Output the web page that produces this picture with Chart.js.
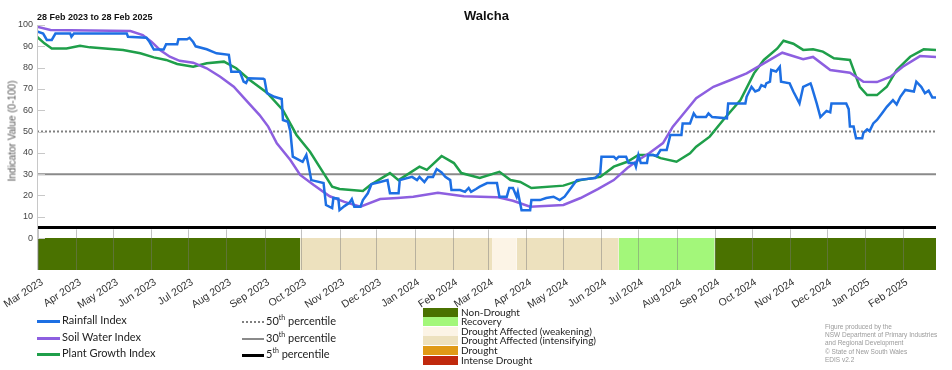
<!DOCTYPE html>
<html>
<head>
<meta charset="utf-8">
<script src="https://cdn.jsdelivr.net/npm/chart.js@4.4.1/dist/chart.umd.min.js"></script>
<style>
  body { margin: 0; background: #fff; font-family: 'Liberation Sans', Arial, sans-serif; }
  #wrap { position: relative; width: 952px; height: 370px; overflow: hidden; }
  #wrap canvas { position: absolute; left: 0; top: 0; }
  .abs { position: absolute; white-space: nowrap; }
  .title { left: 0; width: 973px; top: 8px; text-align: center; font-weight: bold; font-size: 13px; color: #111; }
  .period { left: 37px; top: 12px; font-weight: bold; font-size: 9px; color: #111; }
  .ytitle { left: 12px; top: 131px; font-size: 10px; color: #555; transform: translate(-50%, -50%) rotate(-90deg); }
  .leg { font-family: Lato, 'Liberation Sans', sans-serif; font-size: 11px; color: #222; line-height: 12px; }
  .leg sup { font-size: 7px; line-height: 0; }
  .stage { font-family: Lato, 'Liberation Sans', sans-serif; font-size: 10px; color: #222; line-height: 10px; }
  .credit { left: 825px; top: 323px; font-size: 6.5px; line-height: 8.2px; color: #9a9a9a; }
</style>
</head>
<body>
<div id="wrap">
  <canvas id="chart"></canvas>
  <div class="abs title">Walcha</div>
  <div class="abs period">28 Feb 2023 to 28 Feb 2025</div>
  <div class="abs ytitle">Indicator Value (0-100)</div>
  <div class="abs credit">Figure produced by the<br>NSW Department of Primary Industries<br>and Regional Development<br>© State of New South Wales<br>EDIS v2.2</div>
</div>
<script>
// days counted from 28 Feb 2023
const lastDay = 731;
const monthLabels = ['Mar 2023', 'Apr 2023', 'May 2023', 'Jun 2023', 'Jul 2023', 'Aug 2023',
  'Sep 2023', 'Oct 2023', 'Nov 2023', 'Dec 2023', 'Jan 2024', 'Feb 2024', 'Mar 2024', 'Apr 2024',
  'May 2024', 'Jun 2024', 'Jul 2024', 'Aug 2024', 'Sep 2024', 'Oct 2024', 'Nov 2024', 'Dec 2024',
  'Jan 2025', 'Feb 2025'];
const monthStartDays = [1, 32, 62, 93, 123, 154, 185, 215, 246, 276, 307, 338, 367, 398, 428,
  459, 489, 520, 551, 581, 612, 642, 673, 704];
const yTicks = [0, 10, 20, 30, 40, 50, 60, 70, 80, 90, 100];

const percentileNames = ['50th', '30th', '5th'];
const percentiles = [50, 30, 5];

// [day, value]
const rainfallIndex = [[0,97],[5,96],[8,93],[12,93],[15,96],[27,96],[28,94.5],[30,96],[73,96],[74,94.5],
  [89,94],[91,92.5],[95,88.5],[103,88.5],[105,91],[114,91],[115,93.3],[122,93.3],[124,94],[127,92],
  [129,90],[138,88.6],[146,86.7],[156,86],[157,82],[158,78],[165,78],[168,73.4],[170,72.8],[172,75],
  [184,74.8],[185,74.4],[187,68],[193,66.3],[199,65.3],[200,55.4],[204,54.6],[206,50],[208,38.2],
  [216,35.8],[219,39],[221,33.5],[223,27.2],[233,25.8],[235,15.5],[240,14.1],[241,18.8],[245,18.5],
  [246,13.1],[250,15],[254,16.5],[256,18.3],[258,14.7],[263,14.7],[265,17.8],[269,21],[272,25.3],
  [279,26.3],[285,27.2],[287,21],[294,21],[295,27.2],[305,28.7],[309,27.2],[311,28.7],[315,26.3],
  [318,28.7],[322,28.7],[325,32.4],[329,30.8],[332,28.7],[336,27.2],[337,22.5],[344,22.5],[348,21.7],
  [351,23.5],[353,21.7],[357,23],[360,24.1],[366,25.8],[374,25.8],[376,19.4],[382,19.4],[384,23.5],
  [387,23.5],[390,19.4],[391,21.7],[394,13.1],[401,13.1],[402,17.8],[409,17.8],[414,18.8],[420,19.4],
  [425,17.8],[429,19.4],[433,22.5],[436,24.9],[439,27.2],[454,28.2],[458,30.5],[459,38.2],[469,38.2],
  [471,37],[473,38.2],[479,38.2],[481,35.2],[486,35.2],[487,33.5],[489,39],[491,35.2],[496,35.2],
  [497,39],[501,39],[504,38.5],[507,41.3],[512,41.3],[515,48.4],[524,48.4],[525,53.8],[531,53.8],
  [534,58.5],[536,56.8],[544,56.8],[546,58.5],[549,56.8],[561,56.2],[562,63.2],[576,63.2],[577,66.3],
  [581,71],[584,68.8],[587,69.5],[589,71.8],[592,71],[593,72.6],[596,73.4],[597,78.9],[601,78.2],
  [604,80.4],[605,73.4],[612,72.6],[615,68.8],[620,63.2],[623,71],[629,72.6],[630,71],[634,63.2],
  [637,56.8],[642,59.7],[645,59],[646,63.2],[658,63.2],[660,60.5],[661,52.3],[664,52.3],[666,46.8],
  [671,46.8],[672,49.4],[675,51],[677,50.2],[680,53.8],[683,55.4],[687,58.5],[691,61.6],[696,64.7],
  [699,62.7],[702,66.3],[706,69.5],[713,68.8],[715,73.4],[719,71],[722,68],[725,69.2],[728,66],[731,66]];

const soilWaterIndex = [[0,99.2],[11,97.7],[76,97.2],[86,95.3],[93,92.2],[100,88.3],[108,85.1],
  [116,83.2],[127,82.3],[138,79.7],[149,75.7],[160,71],[171,64],[181,57.7],[188,52.3],[195,44.5],
  [206,36.6],[214,29.6],[225,24.9],[238,19.6],[250,17],[263,14.7],[279,18.3],[293,18.8],[306,19.4],
  [326,21.2],[347,19.6],[374,19.2],[387,17.5],[401,14.7],[428,15.5],[442,18.8],[456,23],[469,27.2],
  [480,32.9],[489,36.6],[498,39.9],[509,44.6],[517,52.3],[528,60],[536,65.6],[550,71],[564,74.2],
  [577,77.3],[591,82],[606,87],[623,83.9],[631,85],[645,78.9],[661,77.6],[672,73.4],[683,73.2],
  [694,75.7],[704,80.4],[718,85.4],[731,85]];

const plantGrowthIndex = [[0,94.5],[6,91.4],[12,89],[24,89],[35,90.3],[43,89.5],[70,88.3],[84,86.7],
  [95,84.8],[105,83.6],[114,81.7],[127,80.4],[138,82],[152,82.8],[162,79.7],[173,74.2],[187,68.2],
  [200,60],[211,48.4],[222,40.5],[233,30.5],[240,24.1],[246,23],[265,22.1],[271,24.9],[287,30.5],
  [294,27.2],[311,33.5],[317,32],[329,38.5],[339,35.2],[345,30.5],[360,28.2],[376,31.1],[385,27.2],
  [393,26.3],[402,23.5],[428,24.6],[442,27.2],[458,28.7],[469,33.5],[480,35.8],[489,39],[501,39],
  [507,37.5],[520,35.8],[531,39.8],[536,42.9],[547,47.6],[558,55.4],[572,64.8],[583,77.3],[591,83.6],
  [602,89],[607,92.6],[615,91.2],[623,88.3],[631,88.6],[639,87.5],[648,84.4],[661,83.6],[669,71],
  [675,67.1],[683,67.1],[691,71],[699,78.9],[710,85.1],[721,88.6],[731,88.3]];

const droughtStages = ['Non-Drought', 'Recovery', 'Drought Affected (weakening)',
  'Drought Affected (intensifying)', 'Drought', 'Intense Drought'];
// stage periods: start days (last entry is end) and stage index per period
const periodBounds = [0, 214, 370, 390, 473, 551, 731];
const periodStages = [0, 3, 2, 3, 1, 0];

const stageColors = ['#4a7200', '#a3f77a', '#fcf4e6', '#ede1be', '#e09a16', '#c0290d'];
const seriesNames = ['Rainfall Index', 'Soil Water Index', 'Plant Growth Index'];
const seriesColors = ['#1d6fe3', '#8d5fe0', '#1f9f4a'];
const pctColors = ['#808080', '#8a8a8a', '#000000'];

const toXY = arr => arr.map(([d, v]) => ({ x: d, y: v }));

const datasets = [];
periodStages.forEach((s, i) => {
  datasets.push({
    data: [{ x: periodBounds[i], y: 0 }, { x: periodBounds[i + 1], y: 0 }],
    fill: 'start', backgroundColor: stageColors[s], borderWidth: 0,
    pointRadius: 0, order: 20
  });
});
percentiles.forEach((p, i) => {
  datasets.push({
    data: [{ x: 0, y: p }, { x: lastDay, y: p }],
    borderColor: pctColors[i], borderWidth: i === 2 ? 3 : 2,
    borderDash: i === 0 ? [2, 2] : [], pointRadius: 0, fill: false, order: 10
  });
});
[rainfallIndex, soilWaterIndex, plantGrowthIndex].forEach((s, i) => {
  datasets.push({
    label: seriesNames[i], data: toXY(s), borderColor: seriesColors[i],
    borderWidth: 2.5, pointRadius: 0, fill: false, tension: 0, order: i + 1
  });
});

const panelLines = {
  id: 'panelLines',
  afterDatasetsDraw(chart) {
    const { ctx, chartArea: a, scales: { x, y } } = chart;
    ctx.save();
    ctx.lineWidth = 1;
    ctx.strokeStyle = 'rgba(120,120,120,0.45)';
    const top = y.getPixelForValue(percentiles[2]) + 2;
    monthStartDays.forEach(d => {
      const px = Math.round(x.getPixelForValue(d)) + 0.5;
      ctx.beginPath(); ctx.moveTo(px, top); ctx.lineTo(px, a.bottom); ctx.stroke();
    });
    ctx.strokeStyle = '#c8c8c8';
    ctx.beginPath(); ctx.moveTo(a.left + 0.5, a.top); ctx.lineTo(a.left + 0.5, a.bottom); ctx.stroke();
    yTicks.forEach(v => {
      const py = Math.round(y.getPixelForValue(v)) + 0.5;
      ctx.beginPath(); ctx.moveTo(a.left, py); ctx.lineTo(a.left + 8, py); ctx.stroke();
    });
    ctx.restore();
  }
};

new Chart(document.getElementById('chart'), {
  type: 'line',
  data: { datasets },
  options: {
    responsive: true,
    maintainAspectRatio: false,
    animation: false,
    layout: { autoPadding: false, padding: { top: 25, right: 16, left: 0, bottom: 0 } },
    plugins: { legend: { display: false }, tooltip: { enabled: false } },
    scales: {
      x: {
        type: 'linear', min: 0, max: lastDay,
        afterBuildTicks: s => { s.ticks = monthStartDays.map(v => ({ value: v })); },
        afterFit: s => { s.height = 100; s.paddingLeft = 0; s.paddingRight = 0; },
        grid: { display: false, drawTicks: false },
        border: { display: false },
        ticks: {
          autoSkip: false, minRotation: 33, maxRotation: 33, padding: 6, labelOffset: 4,
          color: '#333', font: { size: 10.5 },
          callback: (v, i) => monthLabels[i]
        }
      },
      y: {
        type: 'linear', min: -15, max: 100,
        afterBuildTicks: s => { s.ticks = yTicks.map(v => ({ value: v })); },
        afterFit: s => { s.width = 37; s.paddingTop = 0; s.paddingBottom = 0; },
        grid: { display: false, drawTicks: false },
        border: { display: false },
        ticks: { padding: 4, color: '#444', font: { size: 9 } }
      }
    }
  },
  plugins: [panelLines]
});

// legend blocks
const wrap = document.getElementById('wrap');
function add(html, cls, left, top, style) {
  const d = document.createElement('div');
  d.className = 'abs ' + cls;
  d.style.left = left + 'px';
  d.style.top = top + 'px';
  if (style) Object.assign(d.style, style);
  d.innerHTML = html;
  wrap.appendChild(d);
  return d;
}
const legRows = [321, 338, 354];
seriesNames.forEach((n, i) => {
  add('', '', 37, legRows[i] - 1.5, { width: '23px', height: '3px', background: seriesColors[i] });
  add(n, 'leg', 62, legRows[i] - 7);
});
percentileNames.forEach((n, i) => {
  const y = legRows[i] + 1;
  const line = i === 0
    ? { width: '22px', height: '0', borderTop: '2px dotted ' + pctColors[0], top: (y - 1) + 'px' }
    : { width: '22px', height: (i === 2 ? 3 : 2.5) + 'px', background: pctColors[i] };
  add('', '', 242, y - 1.5, line);
  add(n.replace(/(\d+)(\w+)/, '$1<sup>$2</sup>') + ' percentile', 'leg', 266, y - 7);
});
droughtStages.forEach((n, i) => {
  const y = 312 + i * 9.6;
  add('', '', 423, y - 4.5, { width: '35px', height: '9px', background: stageColors[i] });
  add(n, 'stage', 461, y - 5.5);
});
</script>
</body>
</html>
